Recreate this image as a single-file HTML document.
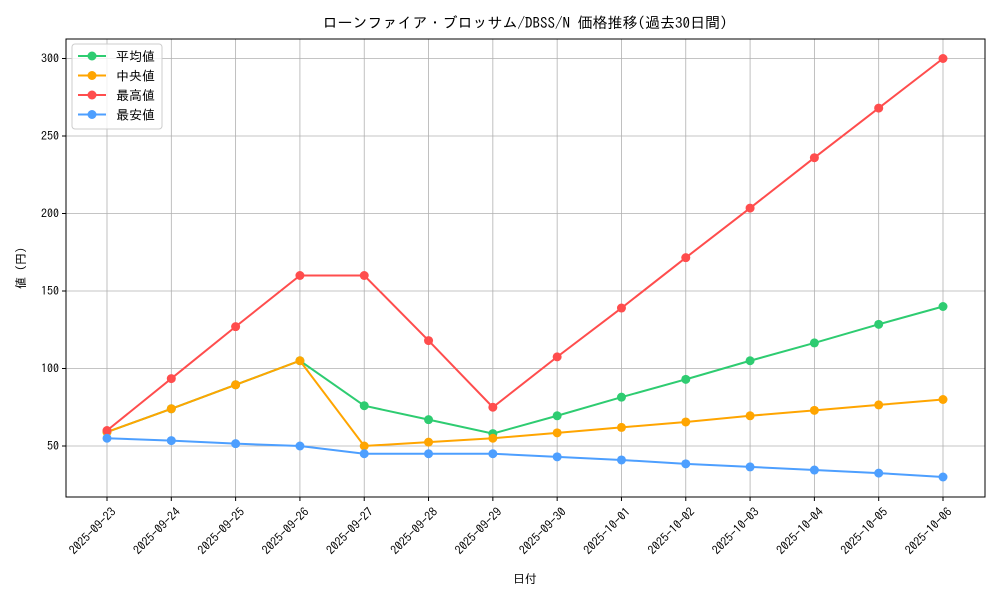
<!DOCTYPE html>
<html><head><meta charset="utf-8"><style>
body{margin:0;background:#fff}
text{font-family:"IPAGothic","Noto Sans CJK JP",sans-serif;fill:#000}
</style></head><body>
<svg id="s" width="1000" height="600" xmlns="http://www.w3.org/2000/svg"></svg>
<script>
const s=document.getElementById('s');let h='';
const L=66,R=985,T=39,B=497;
const X=i=>107+i*(943-107)/13, Y=v=>446-(v-50)*1.55;
const dates=['2025-09-23','2025-09-24','2025-09-25','2025-09-26','2025-09-27','2025-09-28','2025-09-29','2025-09-30','2025-10-01','2025-10-02','2025-10-03','2025-10-04','2025-10-05','2025-10-06'];
h+=`<rect x="${L}" y="${T}" width="${R-L}" height="${B-T}" fill="#fff"/>`;
dates.forEach((d,i)=>{const x=X(i);h+=`<line x1="${x}" y1="${T}" x2="${x}" y2="${B}" stroke="#b0b0b0" stroke-width="0.8"/><line x1="${x}" y1="${B}" x2="${x}" y2="${B+4}" stroke="#000"/><text font-size="12" transform="translate(${x+4},${B+10}) rotate(-45)" text-anchor="end" dominant-baseline="hanging">${d}</text>`;});
[50,100,150,200,250,300].forEach(v=>{const y=Y(v);h+=`<line x1="${L}" y1="${y}" x2="${R}" y2="${y}" stroke="#b0b0b0" stroke-width="0.8"/><line x1="${L-4}" y1="${y}" x2="${L}" y2="${y}" stroke="#000"/><text x="${L-7}" y="${y+4}" font-size="12" text-anchor="end">${v}</text>`;});
const ser=[
['#2ecc71','平均値',[59,74,89.5,105,76,67,58,69.5,81.5,93,105,116.5,128.5,140]],
['#ffa500','中央値',[59,74,89.5,105,50,52.5,55,58.5,62,65.5,69.5,73,76.5,80]],
['#ff4d4d','最高値',[60,93.5,127,160,160,118,75,107.5,139,171.5,203.5,236,268,300]],
['#4d9fff','最安値',[55,53.5,51.5,50,45,45,45,43,41,38.5,36.5,34.5,32.5,30]]];
ser.forEach(([c,n,d])=>{h+=`<polyline fill="none" stroke="${c}" stroke-width="2" points="${d.map((v,i)=>X(i)+','+Y(v)).join(' ')}"/>`;d.forEach((v,i)=>h+=`<circle cx="${X(i)}" cy="${Y(v)}" r="4.5" fill="${c}"/>`);});
h+=`<rect x="${L}" y="${T}" width="${R-L}" height="${B-T}" fill="none" stroke="#000" stroke-width="1"/>`;
h+=`<rect x="72" y="44" width="90" height="85" rx="3" fill="#fff" fill-opacity="0.8" stroke="#ccc"/>`;
ser.forEach(([c,n],i)=>{const y=56+i*19.5;h+=`<line x1="78" y1="${y}" x2="106" y2="${y}" stroke="${c}" stroke-width="2"/><circle cx="92" cy="${y}" r="4.5" fill="${c}"/><text x="116" y="${y+5}" font-size="13">${n}</text>`;});
h+=`<text x="525" y="28" font-size="15" text-anchor="middle">ローンファイア・ブロッサム/DBSS/N 価格推移(過去30日間)</text>`;
h+=`<text x="525" y="583" font-size="12" text-anchor="middle">日付</text>`;
h+=`<text font-size="12" text-anchor="middle" transform="translate(25,268) rotate(-90)">値 (円)</text>`;
s.innerHTML=h;
</script></body></html>
